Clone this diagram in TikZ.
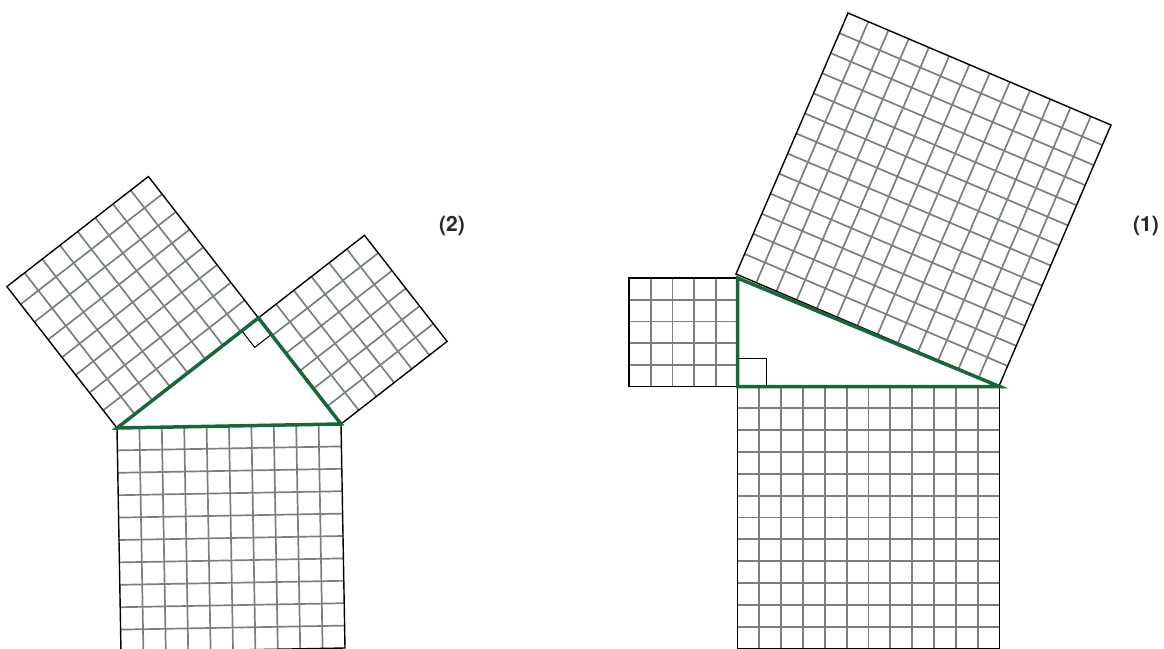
\documentclass[tikz,border=0pt]{standalone}
\usepackage{fontspec}
\setmainfont{TeX Gyre Heros}
\usetikzlibrary{calc}
\definecolor{gridgray}{RGB}{120,128,128}
\definecolor{trigreen}{RGB}{22,104,58}
\definecolor{labelgray}{RGB}{40,40,40}
\tikzset{
  gridline/.style={draw=gridgray, line width=0.85pt},
  border/.style={draw=black, line width=0.7pt},
  triangle/.style={draw=trigreen, line width=1.75pt},
  marker/.style={draw=black, line width=0.5pt},
  figlabel/.style={text=labelgray, font=\fontsize{10.5}{12}\selectfont\bfseries, inner sep=0pt}
}
\newcommand\gridsquare[5]{%
  \pgfmathtruncatemacro\gm{#5-1}%
  \foreach \i in {1,...,\gm}{%
    \draw[gridline] ($(#1)!\i/#5!(#2)$) -- ($(#4)!\i/#5!(#3)$);
    \draw[gridline] ($(#1)!\i/#5!(#4)$) -- ($(#2)!\i/#5!(#3)$);
  }%
  \draw[border] (#1) -- (#2) -- (#3) -- (#4) -- cycle;
}
\begin{document}
\begin{tikzpicture}[x=0.5pt, y=-0.5pt]
\useasboundingbox (0,0) rectangle (1164,649);
\clip (0,0) rectangle (1164,649);
% ---------- figure (2) ----------
\coordinate (A) at (117,428);
\coordinate (B) at (341,424);
\coordinate (C) at (258.4,317.9);
\coordinate (L1) at (148.4,176.5);
\coordinate (L2) at (6.9,286.6);
\coordinate (R1) at (364.5,235.3);
\coordinate (R2) at (447.1,341.4);
\coordinate (D1) at (121,652);
\coordinate (D2) at (345,648);
\coordinate (M1) at (241.8,330.8);
\coordinate (M2) at (254.7,347.4);
\coordinate (M3) at (271.3,334.5);
\gridsquare{A}{C}{L1}{L2}{8}
\gridsquare{C}{B}{R2}{R1}{6}
\gridsquare{A}{B}{D2}{D1}{10}
\draw[marker] (C) -- (M1) -- (M2) -- (M3) -- cycle;
\draw[triangle] (A) -- (B) -- (C) -- cycle;
\node[figlabel] (lab2) at (452,226) {(2)};
% ---------- figure (1) ----------
\coordinate (P) at (737.5,386.5);
\coordinate (Q) at (737.5,278);
\coordinate (R) at (999.5,386.5);
\coordinate (S1) at (629,278);
\coordinate (S2) at (629,386.5);
\coordinate (T1) at (737.5,648.5);
\coordinate (T2) at (999.5,648.5);
\coordinate (H1) at (736,274);
\coordinate (H2) at (999,386);
\coordinate (H3) at (1111,125);
\coordinate (H4) at (848,13);
\coordinate (N1) at (737.5,358);
\coordinate (N2) at (766,358);
\coordinate (N3) at (766,386.5);
\gridsquare{Q}{P}{S2}{S1}{5}
\gridsquare{P}{R}{T2}{T1}{12}
\gridsquare{H1}{H2}{H3}{H4}{13}
\draw[marker] (P) -- (N1) -- (N2) -- (N3);
\draw[triangle] (P) -- (R) -- (Q) -- cycle;
\node[figlabel] (lab1) at (1146,226) {(1)};
\end{tikzpicture}
\end{document}
